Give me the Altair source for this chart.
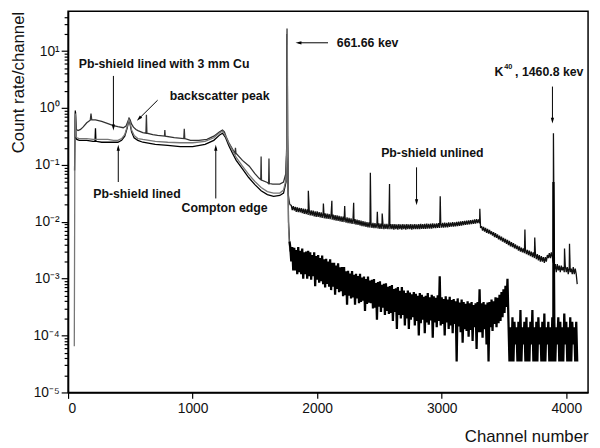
import altair as alt
import pandas as pd

# ---------------- Spectrum data ----------------
# Curve A: low-channel part (channel, count rate)
a_low_ch = [54, 60, 66, 80, 100, 120, 150, 178, 184, 190,
            220, 270, 320, 364, 400, 443, 465, 480, 490, 498,
            510, 525, 545, 561, 600, 625, 629, 633, 680, 719,
            774, 777, 780, 852, 929, 933, 937, 983, 1050, 1115,
            1170, 1217, 1240, 1255, 1270, 1289, 1320, 1340, 1344, 1348,
            1400, 1455, 1500, 1534, 1547, 1550, 1553, 1600, 1610, 1613,
            1616, 1644, 1700, 1730, 1748, 1755, 1758, 1761, 1768, 1780]
a_low_val = [0.3, 0.85, 0.42, 0.40, 0.42, 0.46, 0.55, 0.61, 0.80, 0.62,
             0.62, 0.58, 0.53, 0.49, 0.47, 0.45, 0.48, 0.58, 0.66, 0.62,
             0.52, 0.46, 0.42, 0.40, 0.37, 0.36, 0.76, 0.36, 0.34, 0.33,
             0.32, 0.41, 0.32, 0.30, 0.29, 0.43, 0.29, 0.27, 0.27, 0.28,
             0.32, 0.38, 0.41, 0.38, 0.31, 0.25, 0.19, 0.16, 0.20, 0.16,
             0.12, 0.095, 0.07, 0.058, 0.055, 0.14, 0.054, 0.049, 0.047, 0.13,
             0.047, 0.046, 0.046, 0.05, 0.07, 0.2, 25, 0.3, 0.03, 0.02]

# Curve A: high-channel part, one value every 8 channels from 1792 (units of 1e-4)
a_high_start = 1792
a_high_e4 = [195, 160, 188, 158, 182,
             150, 180, 148, 176, 146, 174, 142, 170,
             138, 168, 136, 165, 132, 162, 130, 158, 128, 157, 125, 153, 122,
             152, 122, 148, 120, 146, 117, 144, 115, 141, 114, 139, 112, 137,
             111, 136, 109, 133, 107, 131, 105, 129, 104, 127, 102, 125, 100,
             123, 99, 121, 97, 119, 95, 117, 94, 115, 92, 113, 91,
             111, 89, 109, 88, 107, 86, 105, 84, 103, 83, 101, 81, 99,
             80, 98, 79, 97, 78, 96, 77, 95, 77, 94, 76, 94, 75,
             93, 75, 93, 74, 92, 75, 92, 74, 92, 74, 91, 74,
             91, 73, 91, 74, 90, 73, 91, 74, 90, 73, 91, 74, 90,
             73, 91, 74, 90, 74, 91, 73, 90, 74, 91, 74, 90,
             74, 91, 74, 92, 75, 91, 75, 92, 75, 93, 76, 92, 76,
             93, 76, 94, 77, 93, 77, 94, 78, 95, 78, 96, 79,
             96, 79, 97, 80, 96, 80, 98, 81, 97, 82, 99, 82, 98,
             83, 100, 84, 101, 85, 102, 86, 103, 87, 104, 88, 105,
             89, 106, 90, 107, 91, 108, 92, 110, 93, 111, 95, 110,
             94, 78, 84, 70, 81, 67, 78, 64, 75, 62, 72, 60, 68,
             57, 66, 54, 63, 52, 60, 49, 57, 47, 55, 45, 52, 43,
             50, 41, 48, 39, 46, 37, 44, 36, 42, 34, 40, 33,
             38, 31, 37, 30, 35, 29, 34, 28, 33, 27, 32, 26, 31,
             25, 30, 24, 29, 23, 28, 22, 27, 21, 26, 20, 25,
             20, 24, 19, 24, 20, 26, 23, 28, 23, 29, 24,
             19, 14, 18, 13, 18, 14, 17, 13, 17, 14, 16, 13, 17,
             13, 16, 12, 16, 13, 15, 12, 16, 12, 15, 12, 8]
# Curve A: line peaks in the high-channel part (units of 1e-4)
a_peak_ch = [1929, 2050, 2118, 2221, 2293, 2427, 2483, 2522, 2581, 2988,
             3306, 3668, 3747, 3897, 3986, 4026]
a_peak_e4 = [350, 210, 235, 190, 215, 730, 150, 140, 460, 280,
             170, 73, 53, 3600, 34, 41]

# Curve B: low-channel part
b_low_ch = [52, 58, 64, 70, 90, 120, 150, 200, 216, 220,
            224, 270, 320, 364, 400, 430, 455, 475, 488, 495,
            510, 530, 560, 600, 700, 800, 900, 1000, 1100, 1170,
            1220, 1240, 1265, 1290, 1320, 1350, 1400, 1450, 1500, 1550,
            1600, 1650, 1700, 1730, 1750, 1756, 1759, 1763, 1770, 1778]
b_low_val = [0.08, 0.9, 0.3, 0.28, 0.27, 0.27, 0.27, 0.26, 0.26, 0.44,
             0.26, 0.25, 0.25, 0.25, 0.25, 0.27, 0.32, 0.45, 0.62, 0.56,
             0.38, 0.30, 0.27, 0.25, 0.23, 0.22, 0.21, 0.21, 0.23, 0.27,
             0.34, 0.36, 0.30, 0.22, 0.16, 0.12, 0.085, 0.06, 0.045, 0.035,
             0.03, 0.028, 0.029, 0.032, 0.05, 0.2, 20, 0.3, 0.01, 0.0045]
# Curve B: noisy high-channel part, every 8 channels from 1784 (units of 1e-4)
b_high_start = 1784
b_high_e4 = [36, 20, 36, 14, 35, 14, 32, 12, 36, 13,
             31, 12, 34, 10, 29, 12, 30, 10, 31, 11,
             29, 9.6, 26, 11, 29, 7.4, 25, 9.6, 26, 8.5,
             23, 9, 25.5, 8, 22, 7, 22.4, 8.1, 20, 7.2,
             22, 6.3, 19, 7.2, 19, 5.2, 17, 6.6, 18.7, 5.8,
             15.8, 6, 16, 4.9, 16, 5.1, 13.5, 3.5, 13.8, 5,
             12.3, 4.5, 13.6, 4.7, 11.7, 3.5, 12.2, 4.5, 11.1, 3.7,
             12.2, 3.9, 10.5, 4.1, 10.9, 2.7, 9.9, 3.6, 10.9, 3.8,
             9.3, 3.7, 9.6, 3, 9.9, 3.1, 8.4, 1.9, 8.7, 3.2,
             9, 2.6, 7.8, 3.1, 8.1, 2.3, 8.3, 2.7, 7.2, 2.4,
             7.4, 2.5, 7.7, 1.8, 6.6, 2.6, 6.8, 1.3, 7.1, 2.3,
             6.1, 2, 7.1, 2.3, 6.2, 1.5, 5.6, 2, 6.2, 1.3,
             5.7, 1.9, 5.3, 2.1, 5.8, 1.5, 5.4, 1.8, 5, 1,
             5.6, 1.65, 5.2, 1.9, 4.8, 1.1, 5, 1.7, 5.6, 1.55,
             4.7, 1.85, 5.2, 0.92, 4.9, 1.7, 4.6, 1.4, 5.1, 1.8,
             11, 1.5, 4.7, 1.6, 4.4, 1, 4.9, 1.7, 4.3, 1.3,
             4.8, 1.5, 4.2, 1.1, 4.4, 1.6, 4, 0.35, 4.5, 1.45,
             3.8, 1.15, 4.3, 0.75, 3.9, 1.3, 3.6, 1.2, 4, 0.95,
             3.7, 1.25, 3.9, 0.8, 3.45, 1.4, 3.7, 0.58, 3.9, 1.15,
             6.5, 1.15, 3.7, 0.92, 3.9, 1.3, 3.5, 0.7, 3.8, 0.35,
             3.9, 1.4, 4.3, 1.2, 4, 1.6, 4.7, 1.4, 4.6, 1.65,
             5.2, 1.8, 5.8, 2.1, 6.5, 2.5, 7.5, 3.2, 10]
# Curve B: counting floor, every 8 channels from 3536 (units of 1e-4)
b_floor_start = 3536
b_floor_e4 = [1.75, 0.35, 1.4, 0.35, 2.1, 0.35, 1.75, 0.7, 1.4, 0.35,
              1.75, 0.35, 2.8, 0.35, 1.4, 0.7, 1.75, 0.35, 2.1, 0.35,
              1.4, 0.35, 1.75, 0.7, 2.8, 0.35, 1.4, 0.35, 1.75, 0.35,
              2.1, 0.7, 1.4, 0.35, 1.75, 0.35, 2.45, 0.35, 1.4, 0.7,
              1.75, 0.35, 1.4, 0.35, 2.1, 0.35, 1.75, 0.35, 1.4, 0.7,
              2.1, 0.35, 1.75, 0.35, 1.4, 0.35, 2.45, 0.7, 1.75, 0.35,
              1.4, 0.35, 2.1, 0.35, 1.75, 0.7, 1.4, 0.35, 1.75, 0.35]
b_peak_ch = [3897]
b_peak_e4 = [500]

# Curve C: low-channel part
c_low_ch = [50, 55, 59, 64, 70, 90, 120, 150, 200, 270,
            320, 364, 400, 430, 455, 475, 488, 495, 510, 530,
            560, 600, 700, 800, 900, 1000, 1100, 1170, 1220, 1240,
            1265, 1290, 1320, 1350, 1400, 1450, 1500, 1550, 1600, 1650,
            1700, 1730, 1750, 1756, 1760, 1764, 1770, 1780]
c_low_val = [6.5e-5, 0.5, 0.8, 0.32, 0.30, 0.29, 0.29, 0.29, 0.28, 0.28,
             0.28, 0.27, 0.27, 0.29, 0.34, 0.47, 0.63, 0.58, 0.41, 0.33,
             0.29, 0.28, 0.26, 0.25, 0.245, 0.245, 0.26, 0.30, 0.37, 0.39,
             0.32, 0.24, 0.18, 0.135, 0.095, 0.068, 0.051, 0.04, 0.034, 0.032,
             0.032, 0.036, 0.055, 0.2, 22, 0.2, 0.008, 0.003]

low_names = ["A", "B", "C"]
low_colors = ["#333333", "#000000", "#777777"]

# ---------------- Annotations ----------------
ann_c_text = ["Pb-shield lined with 3 mm Cu", "backscatter peak", "Pb-shield lined",
              "Compton edge", "Pb-shield unlined"]
ann_c_x = [771, 1217, 553, 1257, 2925]
ann_c_y = [5.9, 1.6, 0.0313, 0.0174, 0.164]
ann_l_text = ["661.66 kev"]
ann_l_x = [2158]
ann_l_y = [14]
k40_x = [3423]
k40_y = [4.29]
k40_main = ["K"]
k40_sup = ["40"]
k40_rest = [", 1460.8 kev"]

arrow_x1 = [364, 719, 403, 1186, 2087, 3889, 2798]
arrow_y1 = [3.66, 1.37, 0.05, 0.0257, 14, 2.38, 0.0906]
arrow_x2 = [364, 569, 403, 1186, 1850, 3889, 2798]
arrow_y2 = [0.455, 0.648, 0.2, 0.2, 14, 0.6, 0.022]
head_dir = ["down", "downleft", "up", "up", "left", "down", "down"]

HEAD_PATH = {
    "down": ("M-0.55,-1L0.55,-1L0,1Z", 0),
    "downleft": ("M-0.55,-1L0.55,-1L0,1Z", 45),
    "up": ("M-0.55,1L0.55,1L0,-1Z", 0),
    "left": ("M1,-0.55L1,0.55L-1,0Z", 0),
}

# ---------------- Build tables ----------------
low_rows, a_rows, b_rows = [], [], []
for c, v in zip(a_low_ch, a_low_val):
    low_rows.append(("A", c, v))
a_rows.append(("A_hi", a_low_ch[-1], a_low_val[-1]))
for i, v in enumerate(a_high_e4):
    a_rows.append(("A_hi", a_high_start + 8 * i, v * 1e-4))
for c, v in zip(a_peak_ch, a_peak_e4):
    a_rows.append(("A_hi", c, v * 1e-4))
for c, v in zip(b_low_ch, b_low_val):
    low_rows.append(("B", c, v))
b_rows.append(("B_hi", b_low_ch[-1], b_low_val[-1]))
for i, v in enumerate(b_high_e4):
    b_rows.append(("B_hi", b_high_start + 8 * i, v * 1e-4))
for i, v in enumerate(b_floor_e4):
    b_rows.append(("B_hi", b_floor_start + 8 * i, v * 1e-4))
for c, v in zip(b_peak_ch, b_peak_e4):
    b_rows.append(("B_hi", c, v * 1e-4))
for c, v in zip(c_low_ch, c_low_val):
    low_rows.append(("C", c, v))
cols = ["series", "ch", "rate"]
spec_low = pd.DataFrame(low_rows, columns=cols)
spec_a = pd.DataFrame(a_rows, columns=cols)
spec_b = pd.DataFrame(b_rows, columns=cols)

ann_c = pd.DataFrame({"x": ann_c_x, "y": ann_c_y, "t": ann_c_text})
ann_l = pd.DataFrame({"x": ann_l_x, "y": ann_l_y, "t": ann_l_text})
k40 = pd.DataFrame({"x": k40_x, "y": k40_y, "m": k40_main, "s": k40_sup, "r": k40_rest})
arrows = pd.DataFrame({"x": arrow_x1, "y": arrow_y1, "x2": arrow_x2, "y2": arrow_y2,
                       "shape": [HEAD_PATH[d][0] for d in head_dir],
                       "angle": [HEAD_PATH[d][1] for d in head_dir]})

# ---------------- Axes ----------------
decades = [0.00001, 0.0001, 0.001, 0.01, 0.1, 1, 10]
decade_labels = ["10\u207b\u2075", "10\u207b\u2074", "10\u207b\u00b3", "10\u207b\u00b2",
                 "10\u207b\u00b9", "10\u2070", "10\u00b9"]
minor = [m * d for d in decades for m in range(2, 10) if m * d < 50]
label_expr = " : ".join(f"datum.value == {repr(float(d))} ? '{lab}'"
                        for d, lab in zip(decades, decade_labels)) + " : ''"
major_test = "indexof([" + ",".join(repr(float(d)) for d in decades) + "], datum.value) >= 0"

FONT = "Liberation Sans"

xscale = alt.Scale(domain=[0, 4175], nice=False, zero=False)
yscale = alt.Scale(type="log", domain=[0.00001, 50], nice=False)

x_axis = alt.Axis(values=[0, 1000, 2000, 3000, 4000], format="d", tickSize=6,
                  grid=False, title="Channel number", titleAnchor="end",
                  labelFontSize=14, titleFontSize=17, titleFontWeight="normal",
                  labelPadding=3, titlePadding=14)
y_axis = alt.Axis(values=decades + minor, labelExpr=label_expr,
                  tickSize={"condition": {"test": major_test, "value": 7}, "value": 4},
                  labelOverlap=False, labelFlush=False, grid=False,
                  title="Count rate/channel", titleAnchor="end",
                  labelFontSize=14, titleFontSize=17, titleFontWeight="normal",
                  labelPadding=2, titlePadding=6)

lines_low = alt.Chart(spec_low).mark_line(strokeWidth=1.3, clip=True).encode(
    x=alt.X("ch:Q", scale=xscale, axis=x_axis),
    y=alt.Y("rate:Q", scale=yscale, axis=y_axis),
    color=alt.Color("series:N", scale=alt.Scale(domain=low_names, range=low_colors),
                    legend=None),
)
line_a_hi = alt.Chart(spec_a).mark_line(strokeWidth=1.3, strokeJoin="bevel", color="#111",
                                        clip=True).encode(
    x=alt.X("ch:Q", scale=xscale), y=alt.Y("rate:Q", scale=yscale))
line_b_hi = alt.Chart(spec_b).mark_line(strokeWidth=2.3, strokeJoin="bevel", color="#000",
                                        clip=True).encode(
    x=alt.X("ch:Q", scale=xscale), y=alt.Y("rate:Q", scale=yscale))

rules = alt.Chart(arrows).mark_rule(color="#000", strokeWidth=1).encode(
    x=alt.X("x:Q", scale=xscale), y=alt.Y("y:Q", scale=yscale),
    x2="x2:Q", y2="y2:Q",
)
heads = alt.Chart(arrows).mark_point(filled=True, color="#000", size=36, opacity=1,
                                     strokeWidth=0).encode(
    x=alt.X("x2:Q", scale=xscale), y=alt.Y("y2:Q", scale=yscale),
    shape=alt.Shape("shape:N", scale=None),
    angle=alt.Angle("angle:Q", scale=None),
)
text_style = dict(font=FONT, fontWeight="bold", fontSize=12.5, color="#111", baseline="middle")
texts_c = alt.Chart(ann_c).mark_text(align="center", **text_style).encode(
    x=alt.X("x:Q", scale=xscale), y=alt.Y("y:Q", scale=yscale), text="t:N")
texts_l = alt.Chart(ann_l).mark_text(align="left", **text_style).encode(
    x=alt.X("x:Q", scale=xscale), y=alt.Y("y:Q", scale=yscale), text="t:N")
k40_m = alt.Chart(k40).mark_text(align="left", **text_style).encode(
    x=alt.X("x:Q", scale=xscale), y=alt.Y("y:Q", scale=yscale), text="m:N")
k40_s = alt.Chart(k40).mark_text(align="left", dx=10, dy=-5, font=FONT, fontWeight="bold",
                                 fontSize=7.5, color="#111", baseline="middle").encode(
    x=alt.X("x:Q", scale=xscale), y=alt.Y("y:Q", scale=yscale), text="s:N")
k40_r = alt.Chart(k40).mark_text(align="left", dx=21, **text_style).encode(
    x=alt.X("x:Q", scale=xscale), y=alt.Y("y:Q", scale=yscale), text="r:N")

chart = alt.layer(lines_low, line_a_hi, line_b_hi, rules, heads, texts_c, texts_l,
                  k40_m, k40_s, k40_r).properties(
    width=528, height=387,
    autosize=alt.AutoSizeParams(type="none"),
    padding={"left": 61, "top": 0, "right": 4, "bottom": 52},
).configure_view(stroke="#000", strokeWidth=1.5).configure_axis(
    domainColor="#000", domainWidth=1.5, tickColor="#000", tickWidth=1.2,
    labelFont=FONT, titleFont=FONT, labelColor="#111", titleColor="#111",
)

chart.save("out.html", embed_options={"renderer": "svg", "actions": False})
